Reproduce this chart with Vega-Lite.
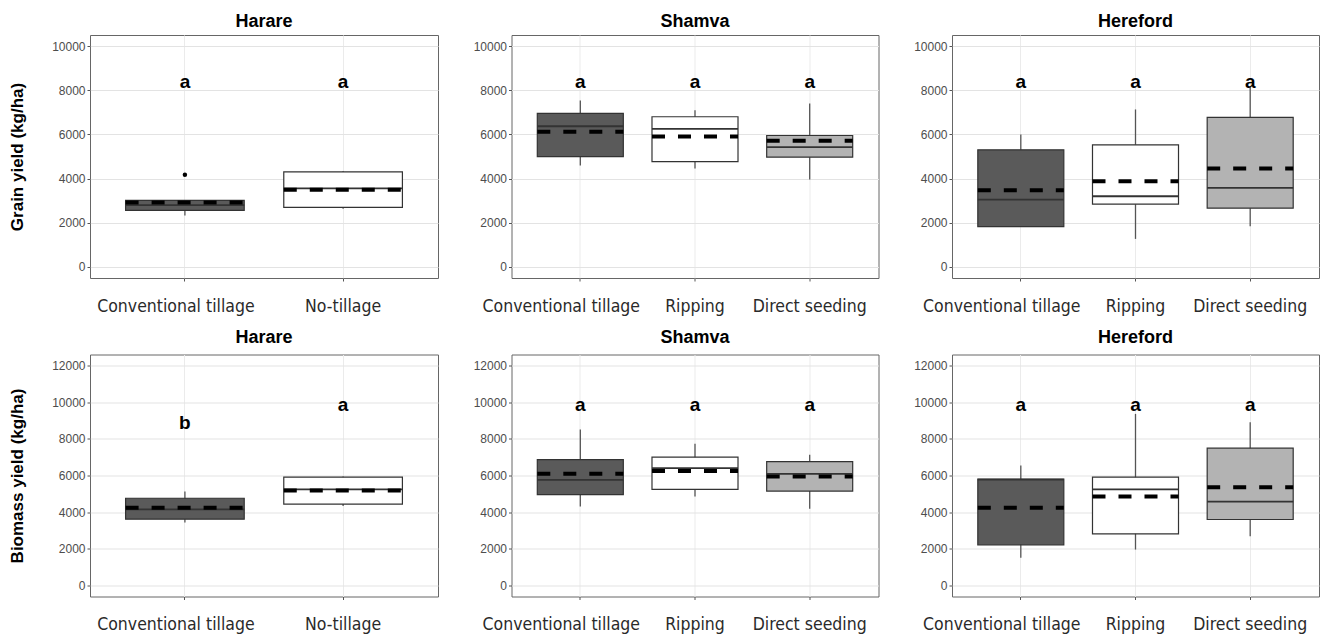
{
  "$schema": "https://vega.github.io/schema/vega-lite/v6.json",
  "padding": {"left": 7, "top": 12, "right": 5, "bottom": 0},
  "background": "white",
  "config": {
    "view": {"stroke": "#666666", "strokeWidth": 1},
    "title": {"font": "Liberation Sans", "fontSize": 18, "fontWeight": "bold", "color": "#000000", "anchor": "middle", "baseline": "alphabetic"},
    "axis": {"domain": false, "tickColor": "#555555", "tickSize": 3, "gridWidth": 1},
    "axisX": {"labelAngle": 0, "labelFont": "DejaVu Sans Condensed", "labelFontSize": 17.5, "labelColor": "#2a2a2a", "labelPadding": 16, "title": null, "grid": true, "gridColor": "#ebebeb"},
    "axisY": {"labelFont": "Liberation Sans", "labelFontSize": 12, "labelColor": "#4d4d4d", "labelPadding": 2, "minExtent": 40, "maxExtent": 40, "titleFont": "Liberation Sans", "titleFontSize": 17, "titleFontWeight": "bold", "titleColor": "#000000", "titlePadding": 24, "format": "d"}
  },
  "datasets": {
    "boxes": [
      {"variable": "Grain", "site": "Harare", "trt": "Conventional tillage", "lo": 2330, "q1": 2560, "med": 2800, "q3": 3010, "hi": 3010, "mean": 2920, "outlier": 4170, "letter": "a", "ly": 8380},
      {"variable": "Grain", "site": "Harare", "trt": "No-tillage", "lo": 2640, "q1": 2700, "med": 3560, "q3": 4300, "hi": 4330, "mean": 3500, "outlier": null, "letter": "a", "ly": 8380},
      {"variable": "Grain", "site": "Shamva", "trt": "Conventional tillage", "lo": 4590, "q1": 4990, "med": 6370, "q3": 6950, "hi": 7540, "mean": 6120, "outlier": null, "letter": "a", "ly": 8380},
      {"variable": "Grain", "site": "Shamva", "trt": "Ripping", "lo": 4460, "q1": 4770, "med": 6250, "q3": 6800, "hi": 7090, "mean": 5900, "outlier": null, "letter": "a", "ly": 8380},
      {"variable": "Grain", "site": "Shamva", "trt": "Direct seeding", "lo": 3960, "q1": 4970, "med": 5420, "q3": 5950, "hi": 7400, "mean": 5710, "outlier": null, "letter": "a", "ly": 8380},
      {"variable": "Grain", "site": "Hereford", "trt": "Conventional tillage", "lo": 1830, "q1": 1830, "med": 3050, "q3": 5300, "hi": 6000, "mean": 3470, "outlier": null, "letter": "a", "ly": 8380},
      {"variable": "Grain", "site": "Hereford", "trt": "Ripping", "lo": 1270, "q1": 2840, "med": 3200, "q3": 5530, "hi": 7130, "mean": 3880, "outlier": null, "letter": "a", "ly": 8380},
      {"variable": "Grain", "site": "Hereford", "trt": "Direct seeding", "lo": 1840, "q1": 2660, "med": 3580, "q3": 6770, "hi": 8140, "mean": 4460, "outlier": null, "letter": "a", "ly": 8380},
      {"variable": "Biomass", "site": "Harare", "trt": "Conventional tillage", "lo": 3440, "q1": 3620, "med": 4150, "q3": 4760, "hi": 5130, "mean": 4240, "outlier": null, "letter": "b", "ly": 8850},
      {"variable": "Biomass", "site": "Harare", "trt": "No-tillage", "lo": 4330, "q1": 4440, "med": 5240, "q3": 5910, "hi": 5950, "mean": 5180, "outlier": null, "letter": "a", "ly": 9870},
      {"variable": "Biomass", "site": "Shamva", "trt": "Conventional tillage", "lo": 4310, "q1": 4960, "med": 5760, "q3": 6870, "hi": 8510, "mean": 6090, "outlier": null, "letter": "a", "ly": 9870},
      {"variable": "Biomass", "site": "Shamva", "trt": "Ripping", "lo": 4860, "q1": 5240, "med": 6400, "q3": 7000, "hi": 7730, "mean": 6250, "outlier": null, "letter": "a", "ly": 9870},
      {"variable": "Biomass", "site": "Shamva", "trt": "Direct seeding", "lo": 4180, "q1": 5150, "med": 6090, "q3": 6760, "hi": 7130, "mean": 5950, "outlier": null, "letter": "a", "ly": 9870},
      {"variable": "Biomass", "site": "Hereford", "trt": "Conventional tillage", "lo": 1510, "q1": 2220, "med": 5780, "q3": 5800, "hi": 6550, "mean": 4240, "outlier": null, "letter": "a", "ly": 9870},
      {"variable": "Biomass", "site": "Hereford", "trt": "Ripping", "lo": 1960, "q1": 2820, "med": 5240, "q3": 5910, "hi": 9360, "mean": 4850, "outlier": null, "letter": "a", "ly": 9870},
      {"variable": "Biomass", "site": "Hereford", "trt": "Direct seeding", "lo": 2690, "q1": 3600, "med": 4580, "q3": 7490, "hi": 8910, "mean": 5360, "outlier": null, "letter": "a", "ly": 9870}
    ]
  },
  "spacing": 12.5,
  "vconcat": [
    {
      "spacing": 31.5,
      "hconcat": [
        {
          "width": 348, "height": 243,
          "title": {"text": "Harare", "offset": 4},
          "data": {"name": "boxes"},
          "transform": [{"filter": "datum.variable === 'Grain' && datum.site === 'Harare'"}],
          "encoding": {"x": {"field": "trt", "type": "nominal", "sort": ["Conventional tillage", "No-tillage"], "scale": {"type": "band", "paddingInner": 0.25, "paddingOuter": 0.225}, "axis": {"title": null, "labelOffset": {"condition": {"test": "datum.value === 'Conventional tillage'", "value": -9}, "value": 0}}}},
          "layer": [
            {"mark": {"type": "rule", "color": "#555555", "strokeWidth": 1.3}, "encoding": {"y": {"field": "lo", "type": "quantitative", "scale": {"domain": [-500, 10500], "nice": false, "zero": false}, "axis": {"title": "Grain yield (kg/ha)", "values": [0, 1000, 2000, 3000, 4000, 5000, 6000, 7000, 8000, 9000, 10000], "labelExpr": "datum.value % 2000 === 0 ? datum.label : ''", "tickOpacity": {"condition": {"test": "datum.value % 2000 !== 0", "value": 0}, "value": 1}, "gridColor": {"condition": {"test": "datum.value % 2000 !== 0", "value": "#f3f3f3"}, "value": "#e3e3e3"}}}, "y2": {"field": "hi"}}},
            {"mark": {"type": "bar", "stroke": "#333333", "strokeWidth": 1.2}, "encoding": {"y": {"field": "q1", "type": "quantitative"}, "y2": {"field": "q3"}, "fill": {"field": "trt", "type": "nominal", "scale": {"domain": ["Conventional tillage", "No-tillage", "Ripping", "Direct seeding"], "range": ["#5a5a5a", "#ffffff", "#ffffff", "#b3b3b3"]}, "legend": null}}},
            {"mark": {"type": "rule", "color": "#333333", "strokeWidth": 1.8}, "encoding": {"x": {"field": "trt", "type": "nominal", "bandPosition": 0}, "x2": {"field": "trt", "bandPosition": 1}, "y": {"field": "med", "type": "quantitative"}}},
            {"mark": {"type": "rule", "color": "#000000", "strokeWidth": 4, "strokeDash": [13, 13]}, "encoding": {"x": {"field": "trt", "type": "nominal", "bandPosition": 0}, "x2": {"field": "trt", "bandPosition": 1}, "y": {"field": "mean", "type": "quantitative"}}},
            {"mark": {"type": "circle", "color": "#000000", "size": 20, "opacity": 1}, "encoding": {"y": {"field": "outlier", "type": "quantitative"}}},
            {"mark": {"type": "text", "font": "Liberation Sans", "fontSize": 19, "fontWeight": "bold", "baseline": "middle", "color": "#000000"}, "encoding": {"y": {"field": "ly", "type": "quantitative"}, "text": {"field": "letter"}}}
          ]
        },
        {
          "width": 367, "height": 243,
          "title": {"text": "Shamva", "offset": 4},
          "data": {"name": "boxes"},
          "transform": [{"filter": "datum.variable === 'Grain' && datum.site === 'Shamva'"}],
          "encoding": {"x": {"field": "trt", "type": "nominal", "sort": ["Conventional tillage", "Ripping", "Direct seeding"], "scale": {"type": "band", "paddingInner": 0.25, "paddingOuter": 0.225}, "axis": {"title": null, "labelOffset": {"condition": {"test": "datum.value === 'Conventional tillage'", "value": -19}, "value": 0}}}},
          "layer": [
            {"mark": {"type": "rule", "color": "#555555", "strokeWidth": 1.3}, "encoding": {"y": {"field": "lo", "type": "quantitative", "scale": {"domain": [-500, 10500], "nice": false, "zero": false}, "axis": {"title": null, "values": [0, 1000, 2000, 3000, 4000, 5000, 6000, 7000, 8000, 9000, 10000], "labelExpr": "datum.value % 2000 === 0 ? datum.label : ''", "tickOpacity": {"condition": {"test": "datum.value % 2000 !== 0", "value": 0}, "value": 1}, "gridColor": {"condition": {"test": "datum.value % 2000 !== 0", "value": "#f3f3f3"}, "value": "#e3e3e3"}}}, "y2": {"field": "hi"}}},
            {"mark": {"type": "bar", "stroke": "#333333", "strokeWidth": 1.2}, "encoding": {"y": {"field": "q1", "type": "quantitative"}, "y2": {"field": "q3"}, "fill": {"field": "trt", "type": "nominal", "scale": {"domain": ["Conventional tillage", "No-tillage", "Ripping", "Direct seeding"], "range": ["#5a5a5a", "#ffffff", "#ffffff", "#b3b3b3"]}, "legend": null}}},
            {"mark": {"type": "rule", "color": "#333333", "strokeWidth": 1.8}, "encoding": {"x": {"field": "trt", "type": "nominal", "bandPosition": 0}, "x2": {"field": "trt", "bandPosition": 1}, "y": {"field": "med", "type": "quantitative"}}},
            {"mark": {"type": "rule", "color": "#000000", "strokeWidth": 4, "strokeDash": [13, 13]}, "encoding": {"x": {"field": "trt", "type": "nominal", "bandPosition": 0}, "x2": {"field": "trt", "bandPosition": 1}, "y": {"field": "mean", "type": "quantitative"}}},
            {"mark": {"type": "text", "font": "Liberation Sans", "fontSize": 19, "fontWeight": "bold", "baseline": "middle", "color": "#000000"}, "encoding": {"y": {"field": "ly", "type": "quantitative"}, "text": {"field": "letter"}}}
          ]
        },
        {
          "width": 367, "height": 243,
          "title": {"text": "Hereford", "offset": 4},
          "data": {"name": "boxes"},
          "transform": [{"filter": "datum.variable === 'Grain' && datum.site === 'Hereford'"}],
          "encoding": {"x": {"field": "trt", "type": "nominal", "sort": ["Conventional tillage", "Ripping", "Direct seeding"], "scale": {"type": "band", "paddingInner": 0.25, "paddingOuter": 0.225}, "axis": {"title": null, "labelOffset": {"condition": {"test": "datum.value === 'Conventional tillage'", "value": -19}, "value": 0}}}},
          "layer": [
            {"mark": {"type": "rule", "color": "#555555", "strokeWidth": 1.3}, "encoding": {"y": {"field": "lo", "type": "quantitative", "scale": {"domain": [-500, 10500], "nice": false, "zero": false}, "axis": {"title": null, "values": [0, 1000, 2000, 3000, 4000, 5000, 6000, 7000, 8000, 9000, 10000], "labelExpr": "datum.value % 2000 === 0 ? datum.label : ''", "tickOpacity": {"condition": {"test": "datum.value % 2000 !== 0", "value": 0}, "value": 1}, "gridColor": {"condition": {"test": "datum.value % 2000 !== 0", "value": "#f3f3f3"}, "value": "#e3e3e3"}}}, "y2": {"field": "hi"}}},
            {"mark": {"type": "bar", "stroke": "#333333", "strokeWidth": 1.2}, "encoding": {"y": {"field": "q1", "type": "quantitative"}, "y2": {"field": "q3"}, "fill": {"field": "trt", "type": "nominal", "scale": {"domain": ["Conventional tillage", "No-tillage", "Ripping", "Direct seeding"], "range": ["#5a5a5a", "#ffffff", "#ffffff", "#b3b3b3"]}, "legend": null}}},
            {"mark": {"type": "rule", "color": "#333333", "strokeWidth": 1.8}, "encoding": {"x": {"field": "trt", "type": "nominal", "bandPosition": 0}, "x2": {"field": "trt", "bandPosition": 1}, "y": {"field": "med", "type": "quantitative"}}},
            {"mark": {"type": "rule", "color": "#000000", "strokeWidth": 4, "strokeDash": [13, 13]}, "encoding": {"x": {"field": "trt", "type": "nominal", "bandPosition": 0}, "x2": {"field": "trt", "bandPosition": 1}, "y": {"field": "mean", "type": "quantitative"}}},
            {"mark": {"type": "text", "font": "Liberation Sans", "fontSize": 19, "fontWeight": "bold", "baseline": "middle", "color": "#000000"}, "encoding": {"y": {"field": "ly", "type": "quantitative"}, "text": {"field": "letter"}}}
          ]
        }
      ]
    },
    {
      "spacing": 31.5,
      "hconcat": [
        {
          "width": 348, "height": 242,
          "title": {"text": "Harare", "offset": 8},
          "data": {"name": "boxes"},
          "transform": [{"filter": "datum.variable === 'Biomass' && datum.site === 'Harare'"}],
          "encoding": {"x": {"field": "trt", "type": "nominal", "sort": ["Conventional tillage", "No-tillage"], "scale": {"type": "band", "paddingInner": 0.25, "paddingOuter": 0.225}, "axis": {"title": null, "labelOffset": {"condition": {"test": "datum.value === 'Conventional tillage'", "value": -9}, "value": 0}}}},
          "layer": [
            {"mark": {"type": "rule", "color": "#555555", "strokeWidth": 1.3}, "encoding": {"y": {"field": "lo", "type": "quantitative", "scale": {"domain": [-600, 12600], "nice": false, "zero": false}, "axis": {"title": "Biomass yield (kg/ha)", "values": [0, 1000, 2000, 3000, 4000, 5000, 6000, 7000, 8000, 9000, 10000, 11000, 12000], "labelExpr": "datum.value % 2000 === 0 ? datum.label : ''", "tickOpacity": {"condition": {"test": "datum.value % 2000 !== 0", "value": 0}, "value": 1}, "gridColor": {"condition": {"test": "datum.value % 2000 !== 0", "value": "#f3f3f3"}, "value": "#e3e3e3"}}}, "y2": {"field": "hi"}}},
            {"mark": {"type": "bar", "stroke": "#333333", "strokeWidth": 1.2}, "encoding": {"y": {"field": "q1", "type": "quantitative"}, "y2": {"field": "q3"}, "fill": {"field": "trt", "type": "nominal", "scale": {"domain": ["Conventional tillage", "No-tillage", "Ripping", "Direct seeding"], "range": ["#5a5a5a", "#ffffff", "#ffffff", "#b3b3b3"]}, "legend": null}}},
            {"mark": {"type": "rule", "color": "#333333", "strokeWidth": 1.8}, "encoding": {"x": {"field": "trt", "type": "nominal", "bandPosition": 0}, "x2": {"field": "trt", "bandPosition": 1}, "y": {"field": "med", "type": "quantitative"}}},
            {"mark": {"type": "rule", "color": "#000000", "strokeWidth": 4, "strokeDash": [13, 13]}, "encoding": {"x": {"field": "trt", "type": "nominal", "bandPosition": 0}, "x2": {"field": "trt", "bandPosition": 1}, "y": {"field": "mean", "type": "quantitative"}}},
            {"mark": {"type": "text", "font": "Liberation Sans", "fontSize": 19, "fontWeight": "bold", "baseline": "middle", "color": "#000000"}, "encoding": {"y": {"field": "ly", "type": "quantitative"}, "text": {"field": "letter"}}}
          ]
        },
        {
          "width": 367, "height": 242,
          "title": {"text": "Shamva", "offset": 8},
          "data": {"name": "boxes"},
          "transform": [{"filter": "datum.variable === 'Biomass' && datum.site === 'Shamva'"}],
          "encoding": {"x": {"field": "trt", "type": "nominal", "sort": ["Conventional tillage", "Ripping", "Direct seeding"], "scale": {"type": "band", "paddingInner": 0.25, "paddingOuter": 0.225}, "axis": {"title": null, "labelOffset": {"condition": {"test": "datum.value === 'Conventional tillage'", "value": -19}, "value": 0}}}},
          "layer": [
            {"mark": {"type": "rule", "color": "#555555", "strokeWidth": 1.3}, "encoding": {"y": {"field": "lo", "type": "quantitative", "scale": {"domain": [-600, 12600], "nice": false, "zero": false}, "axis": {"title": null, "values": [0, 1000, 2000, 3000, 4000, 5000, 6000, 7000, 8000, 9000, 10000, 11000, 12000], "labelExpr": "datum.value % 2000 === 0 ? datum.label : ''", "tickOpacity": {"condition": {"test": "datum.value % 2000 !== 0", "value": 0}, "value": 1}, "gridColor": {"condition": {"test": "datum.value % 2000 !== 0", "value": "#f3f3f3"}, "value": "#e3e3e3"}}}, "y2": {"field": "hi"}}},
            {"mark": {"type": "bar", "stroke": "#333333", "strokeWidth": 1.2}, "encoding": {"y": {"field": "q1", "type": "quantitative"}, "y2": {"field": "q3"}, "fill": {"field": "trt", "type": "nominal", "scale": {"domain": ["Conventional tillage", "No-tillage", "Ripping", "Direct seeding"], "range": ["#5a5a5a", "#ffffff", "#ffffff", "#b3b3b3"]}, "legend": null}}},
            {"mark": {"type": "rule", "color": "#333333", "strokeWidth": 1.8}, "encoding": {"x": {"field": "trt", "type": "nominal", "bandPosition": 0}, "x2": {"field": "trt", "bandPosition": 1}, "y": {"field": "med", "type": "quantitative"}}},
            {"mark": {"type": "rule", "color": "#000000", "strokeWidth": 4, "strokeDash": [13, 13]}, "encoding": {"x": {"field": "trt", "type": "nominal", "bandPosition": 0}, "x2": {"field": "trt", "bandPosition": 1}, "y": {"field": "mean", "type": "quantitative"}}},
            {"mark": {"type": "text", "font": "Liberation Sans", "fontSize": 19, "fontWeight": "bold", "baseline": "middle", "color": "#000000"}, "encoding": {"y": {"field": "ly", "type": "quantitative"}, "text": {"field": "letter"}}}
          ]
        },
        {
          "width": 367, "height": 242,
          "title": {"text": "Hereford", "offset": 8},
          "data": {"name": "boxes"},
          "transform": [{"filter": "datum.variable === 'Biomass' && datum.site === 'Hereford'"}],
          "encoding": {"x": {"field": "trt", "type": "nominal", "sort": ["Conventional tillage", "Ripping", "Direct seeding"], "scale": {"type": "band", "paddingInner": 0.25, "paddingOuter": 0.225}, "axis": {"title": null, "labelOffset": {"condition": {"test": "datum.value === 'Conventional tillage'", "value": -19}, "value": 0}}}},
          "layer": [
            {"mark": {"type": "rule", "color": "#555555", "strokeWidth": 1.3}, "encoding": {"y": {"field": "lo", "type": "quantitative", "scale": {"domain": [-600, 12600], "nice": false, "zero": false}, "axis": {"title": null, "values": [0, 1000, 2000, 3000, 4000, 5000, 6000, 7000, 8000, 9000, 10000, 11000, 12000], "labelExpr": "datum.value % 2000 === 0 ? datum.label : ''", "tickOpacity": {"condition": {"test": "datum.value % 2000 !== 0", "value": 0}, "value": 1}, "gridColor": {"condition": {"test": "datum.value % 2000 !== 0", "value": "#f3f3f3"}, "value": "#e3e3e3"}}}, "y2": {"field": "hi"}}},
            {"mark": {"type": "bar", "stroke": "#333333", "strokeWidth": 1.2}, "encoding": {"y": {"field": "q1", "type": "quantitative"}, "y2": {"field": "q3"}, "fill": {"field": "trt", "type": "nominal", "scale": {"domain": ["Conventional tillage", "No-tillage", "Ripping", "Direct seeding"], "range": ["#5a5a5a", "#ffffff", "#ffffff", "#b3b3b3"]}, "legend": null}}},
            {"mark": {"type": "rule", "color": "#333333", "strokeWidth": 1.8}, "encoding": {"x": {"field": "trt", "type": "nominal", "bandPosition": 0}, "x2": {"field": "trt", "bandPosition": 1}, "y": {"field": "med", "type": "quantitative"}}},
            {"mark": {"type": "rule", "color": "#000000", "strokeWidth": 4, "strokeDash": [13, 13]}, "encoding": {"x": {"field": "trt", "type": "nominal", "bandPosition": 0}, "x2": {"field": "trt", "bandPosition": 1}, "y": {"field": "mean", "type": "quantitative"}}},
            {"mark": {"type": "text", "font": "Liberation Sans", "fontSize": 19, "fontWeight": "bold", "baseline": "middle", "color": "#000000"}, "encoding": {"y": {"field": "ly", "type": "quantitative"}, "text": {"field": "letter"}}}
          ]
        }
      ]
    }
  ]
}
